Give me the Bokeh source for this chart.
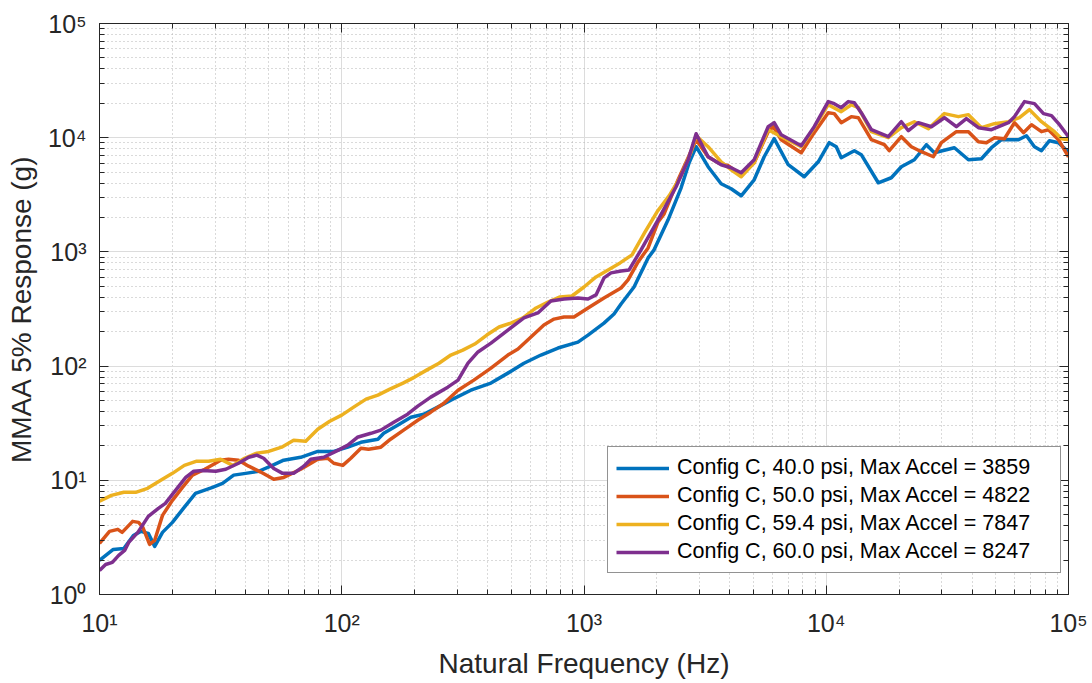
from bokeh.plotting import figure
from bokeh.models import FixedTicker, LogAxis, Range1d
from bokeh.embed import file_html
from bokeh.resources import INLINE

# ---------------- data ----------------
blue_f = [10.0, 11.4, 12.6, 13.8, 14.8, 15.9, 16.9, 18.2, 20.0, 22.2, 24.9, 29.3, 32.2, 35.8, 40.1, 45.4,
          50.9, 57.6, 67.7, 79.6, 92.7, 106, 120, 141, 149, 170, 193, 218, 249, 282, 341, 413, 485, 565,
          664, 781, 944, 1039, 1209, 1330, 1422, 1609, 1839, 1947, 2224, 2517, 2716, 2903, 3253, 3682,
          4050, 4455, 5040, 5543, 6097, 6966, 8112, 9270, 10290, 11000, 11530, 13060, 13950, 16400,
          18560, 20420, 23100, 25900, 27940, 33810, 38630, 43710, 48080, 52880, 62150, 67060, 72350,
          77330, 83460, 90940, 100000]
blue_g = [1.99, 2.48, 2.53, 3.29, 3.57, 3.43, 2.64, 3.50, 4.28, 5.68, 7.69, 8.68, 9.41, 11.1, 11.5, 12.0,
          13.3, 15.0, 15.9, 17.9, 17.9, 19.5, 21.5, 22.9, 25.8, 30.4, 35.7, 37.9, 43.7, 50.3, 61.5, 71.0,
          86.8, 106, 125, 144, 162, 187, 238, 286, 350, 493, 886, 1042, 1910, 3640, 6040, 8340, 5570,
          3950, 3570, 3100, 4280, 6810, 9800, 5800, 4550, 6150, 9040, 8340, 6680, 7690, 7100, 4030, 4460,
          5570, 6410, 8680, 7380, 8170, 6410, 6540, 8170, 9600, 9600, 10400, 8340, 7690, 9410, 9040, 7460]

orange_f = [10.0, 11.0, 11.9, 12.4, 13.7, 14.5, 15.1, 16.1, 16.9, 18.2, 20.0, 22.0, 24.2, 27.2, 29.6,
            31.6, 34.1, 37.5, 41.3, 46.3, 52.4, 57.6, 67.7, 79.6, 87.5, 92.7, 101, 109, 120, 129, 145,
            159, 180, 206, 233, 264, 302, 351, 413, 485, 534, 604, 683, 752, 827, 909, 1039, 1209, 1422,
            1520, 1672, 1839, 2022, 2141, 2446, 2691, 2903, 3253, 3579, 3936, 4455, 5040, 5757, 6039,
            6518, 7885, 8920, 10190, 10790, 11530, 12690, 13560, 15350, 17370, 18200, 20420, 22450,
            24700, 27680, 29870, 34450, 38630, 42480, 45830, 49450, 54400, 59830, 65170, 70330, 77330,
            82670, 90940, 100000]
orange_g = [2.80, 3.57, 3.72, 3.50, 4.37, 4.28, 3.87, 2.75, 2.98, 4.93, 6.68, 8.68, 11.1, 12.5, 13.8,
            15.0, 15.3, 15.0, 13.3, 11.8, 10.2, 10.6, 12.5, 15.3, 15.6, 14.1, 13.5, 15.6, 19.1, 18.7,
            19.5, 22.9, 27.5, 33.6, 39.5, 47.3, 61.5, 75.4, 96.0, 125, 141, 180, 229, 258, 269, 269, 323,
            395, 483, 568, 817, 1084, 1832, 2150, 4280, 6680, 9600, 6810, 6040, 5680, 4730, 6040, 11290,
            12500, 9600, 7380, 11070, 16560, 16250, 13550, 15290, 14970, 9600, 8680, 7690, 10200, 8340,
            7540, 6810, 9040, 11290, 11290, 9230, 9040, 10000, 9800, 13550, 11070, 13000, 11290, 11750,
            9600, 6810]

yellow_f = [10.0, 11.2, 12.6, 14.1, 15.8, 17.9, 20.0, 22.4, 25.2, 28.2, 31.6, 35.5, 39.7, 44.6, 49.9,
            56.5, 63.3, 71.0, 79.6, 89.2, 100, 112, 126, 141, 158, 179, 200, 224, 252, 282, 316, 354,
            397, 446, 499, 560, 634, 710, 796, 892, 1000, 1121, 1257, 1409, 1579, 1787, 2003, 2245, 2517,
            2768, 2903, 3253, 3682, 4050, 4455, 5040, 5757, 6518, 7885, 8920, 10190, 11530, 12690, 13560,
            15350, 18040, 20420, 23100, 26400, 30730, 35120, 38630, 43710, 49450, 56500, 62740, 69010,
            77330, 87530, 93570, 100000]
yellow_g = [6.55, 7.38, 7.85, 7.85, 8.51, 10.0, 11.5, 13.5, 14.7, 14.7, 15.3, 13.5, 15.6, 17.3, 17.9,
            19.5, 22.4, 22.0, 28.0, 32.9, 37.2, 43.7, 51.4, 55.7, 62.9, 71.0, 80.1, 92.2, 106, 125, 138,
            156, 187, 220, 238, 264, 323, 364, 403, 411, 493, 604, 695, 801, 942, 1496, 2244, 3100, 4640,
            7540, 10410, 8340, 6150, 5240, 4550, 6040, 11750, 10200, 8340, 12240, 19450, 16900, 19450,
            18320, 11290, 10000, 12240, 13800, 11990, 16250, 15290, 15920, 12240, 13270, 13800, 14970,
            17620, 13800, 11290, 9800, 9600]

purple_f = [10.0, 10.6, 11.3, 12.0, 12.7, 13.2, 14.4, 15.9, 17.5, 18.7, 20.6, 22.7, 24.5, 26.7, 30.2,
            33.2, 37.5, 41.3, 44.6, 47.6, 52.4, 57.0, 63.3, 69.7, 74.5, 84.3, 96.3, 106, 116, 132, 145,
            164, 187, 206, 233, 274, 302, 332, 365, 413, 485, 565, 645, 730, 827, 944, 1039, 1121, 1209,
            1293, 1422, 1535, 1720, 2022, 2400, 2691, 2903, 3253, 3682, 4050, 4455, 5040, 5757, 6097,
            6518, 7885, 8920, 10190, 10790, 11530, 12330, 13060, 13950, 15350, 18040, 20420, 21830,
            24000, 27170, 30730, 34450, 37880, 42480, 48080, 56500, 59830, 65800, 72350, 78850, 85070,
            91800, 100000]
purple_g = [1.62, 1.83, 1.91, 2.20, 2.43, 2.86, 3.50, 4.83, 5.68, 6.28, 8.17, 10.6, 12.0, 12.2, 12.0,
            12.5, 14.1, 15.9, 16.6, 15.6, 12.7, 11.5, 11.5, 13.3, 15.3, 15.9, 18.3, 20.3, 23.8, 25.8,
            27.5, 32.3, 37.9, 44.6, 53.5, 65.4, 75.4, 106, 133, 159, 207, 264, 292, 372, 387, 395, 387,
            420, 592, 655, 681, 695, 1042, 1910, 3720, 6410, 10840, 6810, 5800, 5460, 4930, 6410, 12480,
            13540, 10610, 8510, 12480, 20700, 19870, 18320, 20700, 20280, 16560, 11750, 10200, 13800,
            11510, 13540, 12480, 14970, 12480, 14680, 12240, 11750, 13540, 15290, 20700, 19870, 16250,
            15610, 13000, 10200]

series_labels = ["Config C, 40.0 psi, Max Accel = 3859",
                 "Config C, 50.0 psi, Max Accel = 4822",
                 "Config C, 59.4 psi, Max Accel = 7847",
                 "Config C, 60.0 psi, Max Accel = 8247"]
series_colors = ["#0072BD", "#D95319", "#EDB120", "#7E2F8E"]

x_ticks = [10, 100, 1000, 10000, 100000]
x_tick_labels = ["10¹", "10²", "10³", "10⁴", "10⁵"]
y_ticks = [1, 10, 100, 1000, 10000, 100000]
y_tick_labels = ["10⁰", "10¹", "10²", "10³", "10⁴", "10⁵"]

x_title = "Natural Frequency (Hz)"
y_title = "MMAA 5% Response (g)"

# ---------------- figure ----------------
FONT = "Liberation Sans"
INK = "#262626"

p = figure(width=1092, height=683, x_axis_type="log", y_axis_type="log",
           x_range=Range1d(10, 100000), y_range=Range1d(1, 100000),
           output_backend="svg", toolbar_location=None,
           min_border_left=99, min_border_right=24, min_border_top=23, min_border_bottom=89)
p.background_fill_color = "white"
p.border_fill_color = "white"
p.outline_line_color = INK
p.outline_line_width = 1

x_minor = [m * 10 ** e for e in range(1, 5) for m in range(2, 10)]
y_minor = [m * 10 ** e for e in range(0, 5) for m in range(2, 10)]
xticker = FixedTicker(ticks=x_ticks, minor_ticks=x_minor)
yticker = FixedTicker(ticks=y_ticks, minor_ticks=y_minor)


def style_axis(ax, ticker, overrides, show_labels=True):
    ax.ticker = ticker
    ax.axis_line_color = INK
    ax.major_tick_line_color = INK
    ax.minor_tick_line_color = INK
    ax.major_tick_in = 9
    ax.major_tick_out = 0
    ax.minor_tick_in = 5
    ax.minor_tick_out = 0
    ax.major_label_text_font = FONT
    ax.major_label_text_color = INK
    if show_labels:
        ax.major_label_text_font_size = "25px"
        ax.major_label_overrides = overrides
    else:
        ax.major_label_text_font_size = "0px"
        ax.major_label_overrides = {k: "" for k in overrides}


style_axis(p.xaxis[0], xticker, dict(zip(x_ticks, x_tick_labels)))
style_axis(p.yaxis[0], yticker, dict(zip(y_ticks, y_tick_labels)))
p.xaxis[0].major_label_standoff = 14
p.yaxis[0].major_label_standoff = 13

for ax, title in ((p.xaxis[0], x_title), (p.yaxis[0], y_title)):
    ax.axis_label = title
    ax.axis_label_text_font = FONT
    ax.axis_label_text_font_size = "28px"
    ax.axis_label_text_font_style = "normal"
    ax.axis_label_text_color = INK
p.xaxis[0].axis_label_standoff = 8
p.yaxis[0].axis_label_standoff = 8

top_ax = LogAxis()
style_axis(top_ax, xticker, dict(zip(x_ticks, x_tick_labels)), show_labels=False)
right_ax = LogAxis()
style_axis(right_ax, yticker, dict(zip(y_ticks, y_tick_labels)), show_labels=False)
p.add_layout(top_ax, "above")
p.add_layout(right_ax, "right")

for g in (p.xgrid[0], p.ygrid[0]):
    g.grid_line_color = "#dcdcdc"
    g.grid_line_width = 1
    g.minor_grid_line_color = "#b4b4b4"
    g.minor_grid_line_dash = "1 3"
    g.minor_grid_line_width = 1

all_f = [blue_f, orange_f, yellow_f, purple_f]
all_g = [blue_g, orange_g, yellow_g, purple_g]
for f, g, lab, col in zip(all_f, all_g, series_labels, series_colors):
    p.line(f, g, line_color=col, line_width=3.5, legend_label=lab, line_join="round")

lg = p.legend[0]
lg.location = (508, 21)
lg.label_text_font = FONT
lg.label_text_font_size = "21.5px"
lg.label_text_color = "#000000"
lg.glyph_width = 53
lg.glyph_height = 24
lg.label_height = 24
lg.label_width = 375
lg.label_standoff = 8
lg.spacing = 3
lg.padding = 8
lg.margin = 0
lg.border_line_color = INK
lg.border_line_width = 1
lg.background_fill_color = "white"
lg.background_fill_alpha = 1.0

open("out.html", "w").write(file_html(p, INLINE))
